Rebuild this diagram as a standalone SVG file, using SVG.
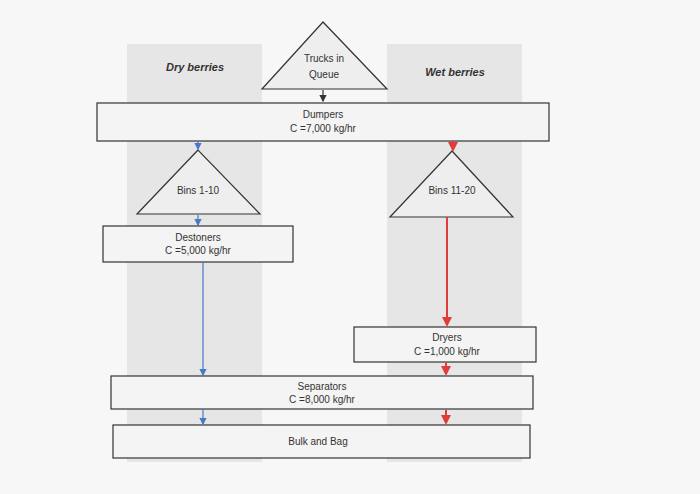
<svg xmlns="http://www.w3.org/2000/svg" width="700" height="494" viewBox="0 0 700 494">
<defs>
<style>
.box{fill:#f4f4f4;stroke:#333;stroke-width:1.2}
.tri{fill:#eeeeee;stroke:#333;stroke-width:1.2}
.t{font-family:"Liberation Sans",Arial,sans-serif;font-size:10px;fill:#333;text-anchor:middle}
.h{font-family:"Liberation Sans",Arial,sans-serif;font-size:11px;font-weight:bold;font-style:italic;fill:#333;text-anchor:middle}
.blue{stroke:#4a78c8;stroke-width:1.2;fill:none}
.red{stroke:#e03c3c;stroke-width:2;fill:none}
</style>
<marker id="ab" markerWidth="6" markerHeight="6" refX="5" refY="3" orient="auto"><path d="M0,0L6,3L0,6z" fill="#4a78c8"/></marker>
<marker id="ar" markerWidth="5" markerHeight="5" refX="4" refY="2.5" orient="auto"><path d="M0,0L5,2.5L0,5z" fill="#e03c3c"/></marker>
<marker id="ak" markerWidth="6" markerHeight="6" refX="5" refY="3" orient="auto"><path d="M0,0L6,3L0,6z" fill="#333"/></marker>
</defs>
<rect width="700" height="494" fill="#f7f7f7"/>
<rect x="127" y="44" width="135" height="418" fill="#e6e6e6"/>
<rect x="387" y="44" width="135" height="418" fill="#e6e6e6"/>
<text class="h" x="195" y="71">Dry berries</text>
<text class="h" x="455" y="76">Wet berries</text>
<g id="trucks"><polygon class="tri" points="323,22 262,89 387,89"/><text class="t" x="324" y="62">Trucks in</text><text class="t" x="324" y="78">Queue</text></g>
<g id="dumpers"><rect class="box" x="97" y="103" width="452" height="38"/><text class="t" x="323" y="118">Dumpers</text><text class="t" x="323" y="132">C =7,000 kg/hr</text></g>
<g id="bins1"><polygon class="tri" points="198,150 137,214 260,214"/><text class="t" x="198" y="194">Bins 1-10</text></g>
<g id="bins2"><polygon class="tri" points="452,151 390,217 513,217"/><text class="t" x="452" y="194">Bins 11-20</text></g>
<g id="destoners"><rect class="box" x="103" y="226" width="190" height="36"/><text class="t" x="198" y="241">Destoners</text><text class="t" x="198" y="254">C =5,000 kg/hr</text></g>
<g id="dryers"><rect class="box" x="354" y="327" width="182" height="35"/><text class="t" x="447" y="341">Dryers</text><text class="t" x="447" y="355">C =1,000 kg/hr</text></g>
<g id="separators"><rect class="box" x="111" y="376" width="422" height="33"/><text class="t" x="322" y="390">Separators</text><text class="t" x="322" y="403">C =8,000 kg/hr</text></g>
<g id="bulk"><rect class="box" x="113" y="425" width="417" height="33"/><text class="t" x="318" y="445">Bulk and Bag</text></g>
<g id="connectors">
<line x1="323" y1="90" x2="323" y2="101" stroke="#333" stroke-width="1.2" marker-end="url(#ak)"/>
<line class="blue" x1="198" y1="141" x2="198" y2="149" marker-end="url(#ab)"/>
<line class="blue" x1="198" y1="215" x2="198" y2="225" marker-end="url(#ab)"/>
<line class="blue" x1="203" y1="262" x2="203" y2="375" marker-end="url(#ab)"/>
<line class="blue" x1="203" y1="409" x2="203" y2="424" marker-end="url(#ab)"/>
<line class="red" x1="453" y1="141" x2="453" y2="150" marker-end="url(#ar)"/>
<line class="red" x1="447" y1="217" x2="447" y2="325" marker-end="url(#ar)"/>
<line class="red" x1="446" y1="362" x2="446" y2="374" marker-end="url(#ar)"/>
<line class="red" x1="446" y1="410" x2="446" y2="423" marker-end="url(#ar)"/>
</g>
</svg>
